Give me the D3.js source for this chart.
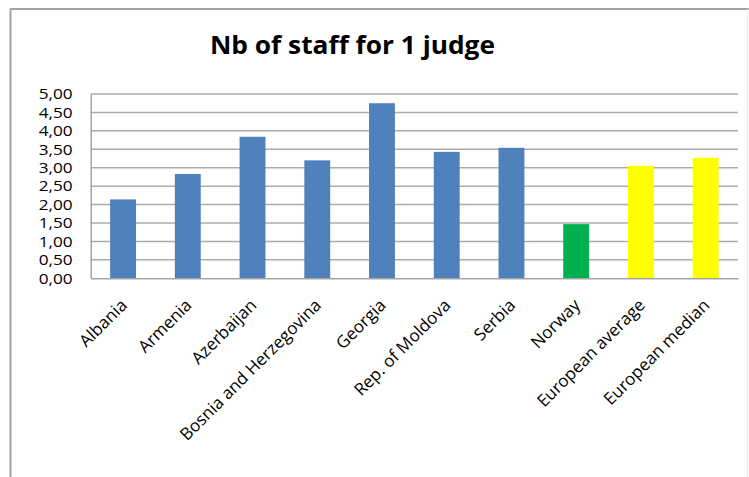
<!DOCTYPE html>
<html>
<head>
<meta charset="utf-8">
<script src="https://cdn.jsdelivr.net/npm/d3@7"></script>
<style>
  html, body { margin: 0; padding: 0; background: #fff; }
  svg { display: block; }
  text { font-family: "Open Sans", "Noto Sans", sans-serif; fill: #000; }
</style>
</head>
<body>
<svg id="chart" width="749" height="477"></svg>
<script>
// Staff per judge, by country / reference group
const categories = ["Albania", "Armenia", "Azerbaijan", "Bosnia and Herzegovina", "Georgia",
                    "Rep. of Moldova", "Serbia", "Norway", "European average", "European median"];
const values = [2.14, 2.83, 3.84, 3.20, 4.75, 3.43, 3.54, 1.47, 3.05, 3.27];
const groups = ["region", "region", "region", "region", "region",
                "region", "region", "norway", "europe", "europe"];
const yTicks = [0, 0.5, 1, 1.5, 2, 2.5, 3, 3.5, 4, 4.5, 5];
const title = "Nb of staff for 1 judge";

const colorOf = { region: "#4F81BD", norway: "#00B050", europe: "#FFFF00" };

const svg = d3.select("#chart");

// Outer chart frame (open to the right and bottom)
svg.append("line").attr("x1", 10.5).attr("x2", 10.5).attr("y1", 9).attr("y2", 477)
  .attr("stroke", "#a3a3a3").attr("stroke-width", 2);
svg.append("line").attr("x1", 10).attr("x2", 749).attr("y1", 9).attr("y2", 9)
  .attr("stroke", "#a3a3a3").attr("stroke-width", 2);
svg.append("line").attr("x1", 747.5).attr("x2", 747.5).attr("y1", 9).attr("y2", 477)
  .attr("stroke", "#ececec").attr("stroke-width", 1);

const plot = { left: 90.7, right: 738, top: 94, bottom: 278.3 };

const x = d3.scaleBand().domain(categories).range([plot.left, plot.right])
  .paddingInner(0.6).paddingOuter(0.3);
const y = d3.scaleLinear().domain([0, 5]).range([plot.bottom, plot.top]);

// Title
svg.append("text")
  .attr("x", 352.5).attr("y", 54)
  .attr("text-anchor", "middle")
  .attr("font-size", 25).attr("font-weight", "bold")
  .attr("textLength", 285).attr("lengthAdjust", "spacingAndGlyphs")
  .text(title);

// Horizontal gridlines
svg.append("g").selectAll("line").data(yTicks.filter(d => d > 0)).join("line")
  .attr("x1", plot.left).attr("x2", plot.right)
  .attr("y1", d => y(d)).attr("y2", d => y(d))
  .attr("stroke", "#acacac").attr("stroke-width", 1.5);

// Value axis
const yAxis = d3.axisLeft(y).tickValues(yTicks).tickSize(0).tickPadding(18)
  .tickFormat(d => d3.format(".2f")(d).replace(".", ","));
const gy = svg.append("g").attr("transform", `translate(${plot.left},0)`).call(yAxis);
gy.select(".domain").attr("stroke", "#a6a6a6").attr("stroke-width", 1.5);
gy.selectAll("text").attr("font-size", 15).attr("fill", "#000")
  .style("font-family", "'Open Sans', sans-serif")
  .attr("textLength", 34).attr("lengthAdjust", "spacingAndGlyphs");

// Bars
svg.append("g").selectAll("rect").data(categories).join("rect")
  .attr("x", d => x(d))
  .attr("width", x.bandwidth())
  .attr("y", (d, i) => y(values[i]))
  .attr("height", (d, i) => y(0) - y(values[i]))
  .attr("fill", (d, i) => colorOf[groups[i]]);

// Category axis
const xAxis = d3.axisBottom(x).tickSize(0).tickPadding(0);
const gx = svg.append("g").attr("transform", `translate(0,${plot.bottom})`).call(xAxis);
gx.select(".domain").attr("stroke", "#a6a6a6").attr("stroke-width", 1.5);
gx.selectAll(".tick text")
  .attr("font-size", 17).attr("fill", "#000")
  .style("font-family", "'Open Sans', sans-serif")
  .attr("text-anchor", "end")
  .attr("x", 0).attr("y", 0).attr("dy", 0)
  .attr("transform", "translate(5,28) rotate(-45)");
</script>
</body>
</html>
